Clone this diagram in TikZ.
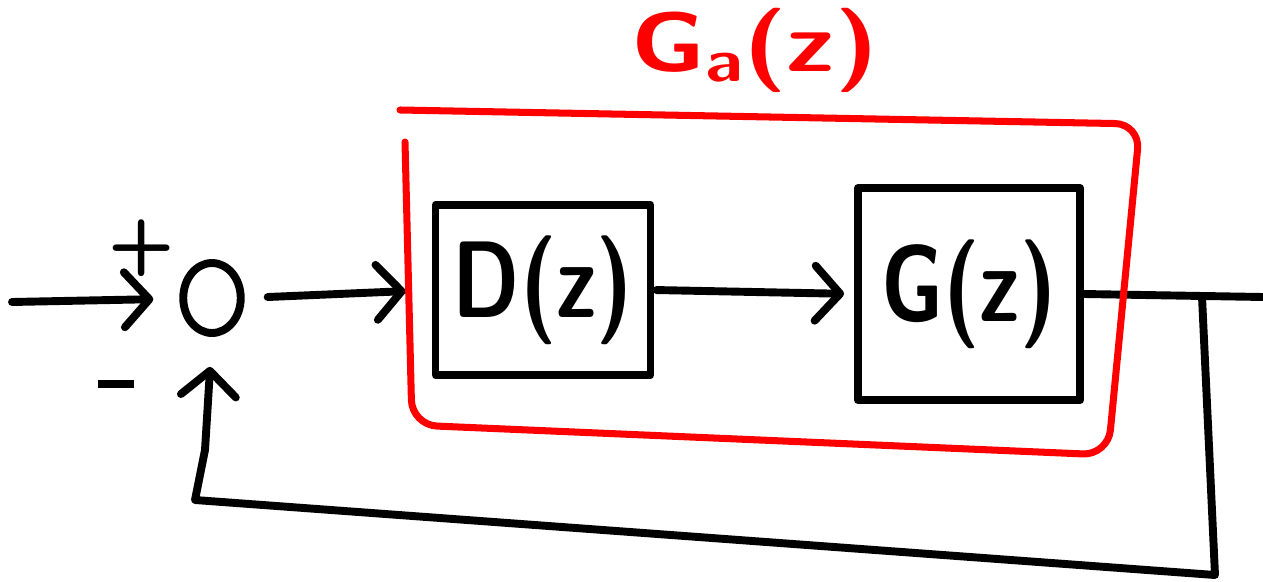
\documentclass[tikz,border=0pt]{standalone}
\usetikzlibrary{arrows.meta,shapes.geometric}
\begin{document}
\begin{tikzpicture}[x=0.02cm,y=-0.02cm,
  line width=4.5pt, line cap=round, line join=round,
  arr/.style={-{Straight Barb[length=0.5cm,width=1.1cm,round]}},
  blockbox/.style={draw, rectangle, minimum width=4.3cm, minimum height=3.4cm, font=\sffamily\bfseries\fontsize{62}{62}\selectfont},
  sumnode/.style={draw, ellipse, minimum width=1.15cm, minimum height=1.4cm, inner sep=0pt},
  signlbl/.style={font=\sffamily\bfseries\fontsize{44}{44}\selectfont, inner sep=0pt},
  redbox/.style={draw=red, line width=4pt, rounded corners=0.5cm},
]
\useasboundingbox (0,0) rectangle (1263,581);
\coordinate (in) at (12,302);
\coordinate (out) at (1263,297);
\node[sumnode] (sum) at (212,298) {};
\node[blockbox] (D) at (543,290) {\scalebox{0.78}[1]{D(z)}};
\node[blockbox, minimum width=4.44cm, minimum height=4.24cm] (G) at (969,294) {\scalebox{0.78}[1]{G(z)}};
\node[signlbl] (plus) at (142,248) {+};
\node[inner sep=0pt] (minus) at (116,384) {\rule{0.72cm}{4.5pt}};
\coordinate (tap) at (1202,297);
\coordinate (fb1) at (1215,575);
\coordinate (fb2) at (195,500);
\coordinate (fb3) at (205,450);
\node[text=red, font=\sffamily\bfseries\fontsize{48}{48}\selectfont] (Ga) at (755,50) {\scalebox{1.2}[1]{G\raisebox{-6pt}{\fontsize{34}{34}\selectfont a}(z)}};

\draw[arr, shorten >=0.52cm] (in) -- (sum);
\draw[arr, shorten <=0.46cm, shorten >=0.52cm] (sum.east) -- (D.west);
\draw[arr, shorten <=0.04cm, shorten >=0.2cm] (D.east) -- (G.west);
\draw (G.east) -- (out);
\draw[arr, shorten >=0.6cm] (tap) -- (fb1) -- (fb2) -- (fb3) -- (sum.south);

\draw[redbox] (405,142) -- (412,425) -- (1108,455) -- (1140,124) -- (400,110);
\end{tikzpicture}
\end{document}
